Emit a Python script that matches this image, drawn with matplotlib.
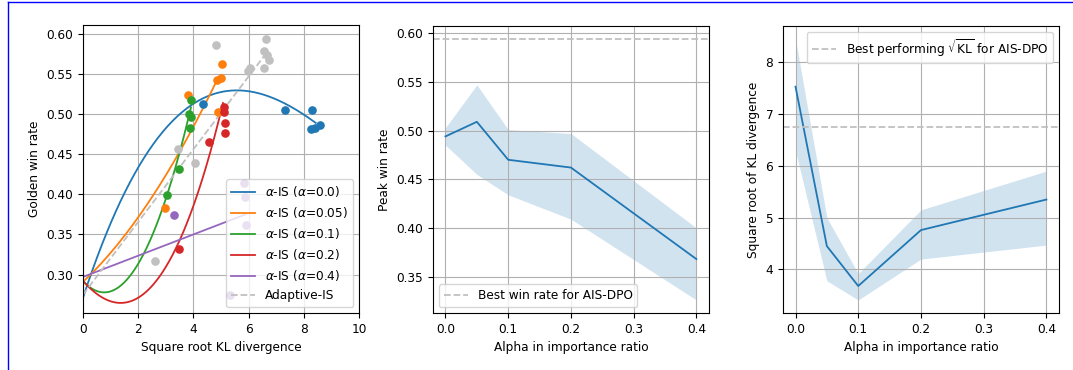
import numpy as np
import matplotlib.pyplot as plt
from matplotlib.lines import Line2D

plt.rcParams['font.size'] = 8.7

# sqrt(KL) and golden win rate of the checkpoints, one pair of arrays per alpha
kl_a00 = [4.35, 7.31, 8.29, 8.25, 8.39, 8.57]
win_a00 = [0.513, 0.505, 0.505, 0.481, 0.483, 0.486]
kl_a005 = [3.81, 5.05, 5.01, 4.87, 4.90, 2.98]
win_a005 = [0.524, 0.563, 0.545, 0.542, 0.503, 0.383]
kl_a01 = [3.91, 3.85, 3.91, 3.87, 3.47, 3.05]
win_a01 = [0.517, 0.500, 0.496, 0.483, 0.432, 0.399]
kl_a02 = [5.10, 5.10, 5.16, 5.14, 4.55, 3.48]
win_a02 = [0.509, 0.502, 0.489, 0.477, 0.465, 0.332]
kl_a04 = [5.82, 5.86, 3.29, 5.92, 5.32]
win_a04 = [0.414, 0.397, 0.374, 0.362, 0.274]
kl_ais = [4.81, 6.62, 6.56, 6.67, 6.74, 6.56, 6.04, 5.96, 3.44, 4.07, 2.59]
win_ais = [0.586, 0.594, 0.579, 0.573, 0.568, 0.557, 0.557, 0.554, 0.456, 0.439, 0.317]

# points along the fitted trend curves
fit_kl_a00 = [0.0, 0.91, 1.45, 2.18, 3.67, 6.0, 8.0, 8.43]
fit_win_a00 = [0.273, 0.350, 0.400, 0.450, 0.500, 0.530, 0.499, 0.489]
fit_kl_a005 = [0.0, 1.45, 2.48, 3.39, 4.23, 4.87]
fit_win_a005 = [0.292, 0.344, 0.394, 0.450, 0.500, 0.542]
fit_kl_a01 = [0.0, 0.9, 2.17, 2.47, 3.05, 3.87, 3.91]
fit_win_a01 = [0.292, 0.277, 0.327, 0.344, 0.399, 0.501, 0.510]
fit_kl_a02 = [0.0, 1.1, 3.45, 4.53, 5.07]
fit_win_a02 = [0.291, 0.268, 0.333, 0.452, 0.509]
fit_kl_a04 = [0.0, 5.89]
fit_win_a04 = [0.297, 0.375]
fit_kl_ais = [0.0, 6.62]
fit_win_ais = [0.275, 0.575]

# summary over alphas
alphas = [0.0, 0.05, 0.1, 0.2, 0.4]
peak_win = [0.494, 0.509, 0.470, 0.462, 0.368]
peak_win_lo = [0.485, 0.455, 0.434, 0.409, 0.326]
peak_win_hi = [0.503, 0.547, 0.501, 0.497, 0.400]
sqrt_kl = [7.53, 4.45, 3.68, 4.76, 5.35]
sqrt_kl_lo = [6.29, 3.78, 3.41, 4.20, 4.47]
sqrt_kl_hi = [8.45, 5.00, 3.92, 5.15, 5.90]
best_win_ais = 0.594
best_kl_ais = 6.75

series = [
    (kl_a00, win_a00, fit_kl_a00, fit_win_a00, 3, 'C0', r'$\alpha$-IS ($\alpha$=0.0)'),
    (kl_a005, win_a005, fit_kl_a005, fit_win_a005, 2, 'C1', r'$\alpha$-IS ($\alpha$=0.05)'),
    (kl_a01, win_a01, fit_kl_a01, fit_win_a01, 3, 'C2', r'$\alpha$-IS ($\alpha$=0.1)'),
    (kl_a02, win_a02, fit_kl_a02, fit_win_a02, 3, 'C3', r'$\alpha$-IS ($\alpha$=0.2)'),
    (kl_a04, win_a04, fit_kl_a04, fit_win_a04, 1, 'C4', r'$\alpha$-IS ($\alpha$=0.4)'),
    (kl_ais, win_ais, fit_kl_ais, fit_win_ais, 1, 'silver', 'Adaptive-IS'),
]

fig = plt.figure(figsize=(10.73, 3.70), dpi=100)
ax1 = fig.add_axes([0.0774, 0.154, 0.2572, 0.7784])
ax2 = fig.add_axes([0.4035, 0.154, 0.2572, 0.7757])
ax3 = fig.add_axes([0.7297, 0.154, 0.2572, 0.7757])

## win rate vs sqrt KL with polynomial trend
for kl, win, fx, fy, deg, c, lab in series:
    ax1.scatter(kl, win, s=27, color=c, zorder=3)
    coef = np.polyfit(fx, fy, deg)
    xs = np.linspace(fx[0], fx[-1], 200)
    ls = '--' if lab == 'Adaptive-IS' else '-'
    ax1.plot(xs, np.polyval(coef, xs), ls, color=c, lw=1.3, label=lab)

ax1.set_xlim(0, 10)
ax1.set_ylim(0.252, 0.611)
ax1.set_xlabel('Square root KL divergence')
ax1.set_ylabel('Golden win rate')
ax1.legend(loc='lower right')
ax1.grid()

## peak win rate per alpha
ax2.plot(alphas, peak_win, color='C0', lw=1.3)
ax2.fill_between(alphas, peak_win_lo, peak_win_hi, color='C0', alpha=0.2, lw=0)
ax2.axhline(best_win_ais, ls='--', color='silver', lw=1.3, label='Best win rate for AIS-DPO')
ax2.set_xlabel('Alpha in importance ratio')
ax2.set_ylabel('Peak win rate')
ax2.legend(loc='lower left')
ax2.grid()

## sqrt KL per alpha
ax3.plot(alphas, sqrt_kl, color='C0', lw=1.3)
ax3.fill_between(alphas, sqrt_kl_lo, sqrt_kl_hi, color='C0', alpha=0.2, lw=0)
ax3.axhline(best_kl_ais, ls='--', color='silver', lw=1.3,
            label=r'Best performing $\sqrt{\mathrm{KL}}$ for AIS-DPO')
ax3.set_xlabel('Alpha in importance ratio')
ax3.set_ylabel('Square root of KL divergence')
ax3.legend(loc='upper right')
ax3.grid()

# border around the figure
fig.add_artist(Line2D([0.0075, 1], [0.9946, 0.9946], transform=fig.transFigure, color='blue', lw=1))
fig.add_artist(Line2D([0.0075, 0.0075], [0, 0.9946], transform=fig.transFigure, color='blue', lw=1))

fig.savefig('out.png', dpi=100)
